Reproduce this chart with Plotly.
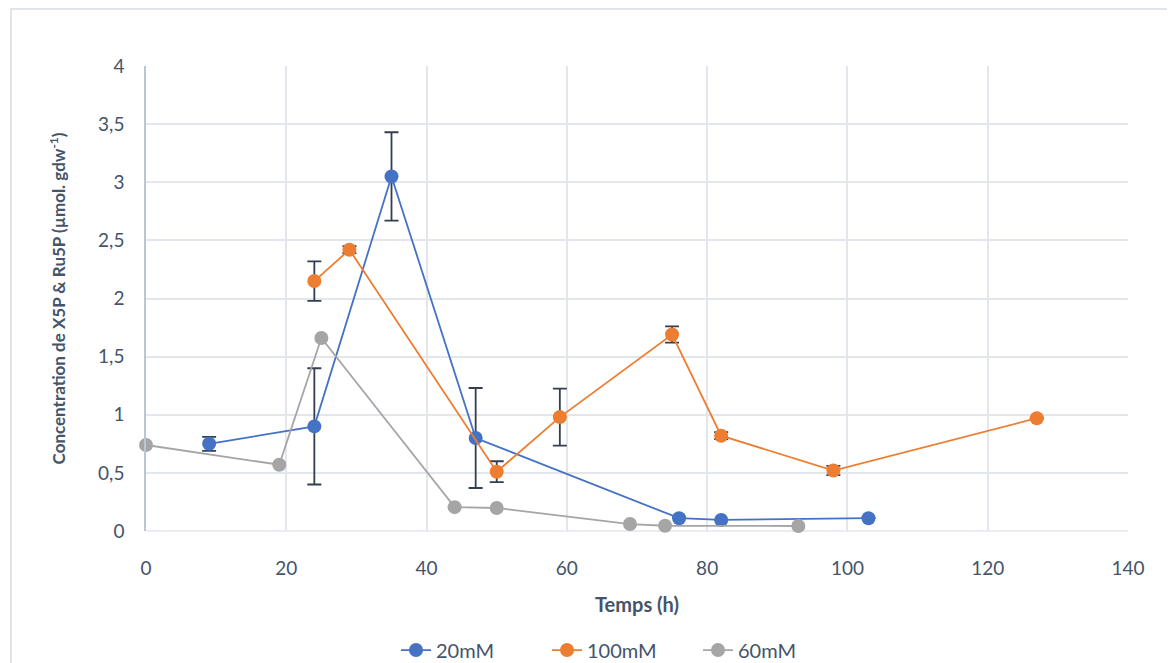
import plotly.graph_objects as go

# 20mM
x_20 = [9, 24, 35, 47, 76, 82, 103]
y_20 = [0.75, 0.90, 3.05, 0.80, 0.11, 0.095, 0.11]
e_20 = [0.06, 0.50, 0.38, 0.43, 0.0, 0.0, 0.0]

# 100mM
x_100 = [24, 29, 50, 59, 75, 82, 98, 127]
y_100 = [2.15, 2.42, 0.51, 0.98, 1.69, 0.82, 0.52, 0.97]
e_100 = [0.17, 0.03, 0.09, 0.245, 0.07, 0.03, 0.04, 0.0]

# 60mM
x_60 = [0, 19, 25, 44, 50, 69, 74, 93]
y_60 = [0.74, 0.57, 1.66, 0.205, 0.198, 0.06, 0.045, 0.043]

y_tickvals = [0, 0.5, 1, 1.5, 2, 2.5, 3, 3.5, 4]
y_ticktext = ["0", "0,5", "1", "1,5", "2", "2,5", "3", "3,5", "4"]
x_tickvals = [0, 20, 40, 60, 80, 100, 120, 140]

TXT = "#44546A"
GRID = "#E3E6EC"
ERR = "#333F50"
FONT = "Lato"

fig = go.Figure()


def add(name, xs, ys, color, errs=None):
    kw = {}
    if errs is not None:
        kw["error_y"] = dict(type="data", array=errs, visible=True,
                             color=ERR, thickness=1.8, width=7)
    fig.add_trace(go.Scatter(
        x=xs, y=ys, name=name, mode="lines+markers",
        line=dict(color=color, width=1.8),
        marker=dict(color=color, size=14),
        cliponaxis=False,
        **kw))


add("20mM", x_20, y_20, "#4472C4", e_20)
add("100mM", x_100, y_100, "#ED7D31", e_100)
add("60mM", x_60, y_60, "#A5A5A5")

fig.update_layout(
    width=1175, height=663,
    margin=dict(l=138, r=55, t=58, b=140, autoexpand=False),
    paper_bgcolor="white", plot_bgcolor="white",
    font=dict(family=FONT, color=TXT, size=18),
    showlegend=True,
    legend=dict(orientation="h", x=(396 - 146) / 982, xanchor="left", y=-0.256,
                yanchor="middle", font=dict(size=20, color=TXT),
                entrywidth=106, entrywidthmode="pixels"),
    xaxis=dict(range=[0, 140], tickvals=x_tickvals, showgrid=True,
               gridcolor=GRID, gridwidth=1.5, zeroline=False,
               showline=False, ticks="outside", ticklen=20,
               tickcolor="rgba(0,0,0,0)", automargin=False,
               tickfont=dict(size=19, color=TXT),
               title=dict(text="<b>Temps (h)</b>", font=dict(size=20, color=TXT),
                          standoff=20)),
    yaxis=dict(range=[0, 4], tickvals=y_tickvals, ticktext=y_ticktext,
               showgrid=True, gridcolor=GRID, gridwidth=1.5, zeroline=False,
               showline=True, linecolor="#BCC5D6", linewidth=1.5,
               ticks="outside", ticklen=16, tickcolor="rgba(0,0,0,0)",
               automargin=False,
               tickfont=dict(size=19, color=TXT),
               title=dict(text="<b>Concentration de X5P & Ru5P (µmol. gdw<sup>-1</sup>)</b>",
                          font=dict(size=17, color=TXT), standoff=28)),
    shapes=[
        dict(type="rect", xref="paper", yref="paper",
             x0=(11 - 146) / 982, x1=(1190 - 146) / 982,
             y0=-(690 - 531) / 465, y1=1 + (66 - 9) / 465,
             line=dict(color="#E0E4EA", width=2), layer="below"),
        dict(type="line", xref="paper", yref="paper", x0=0, x1=1, y0=0, y1=0,
             line=dict(color=GRID, width=1.5), layer="below"),
    ],
)

fig.write_html("out.html")
